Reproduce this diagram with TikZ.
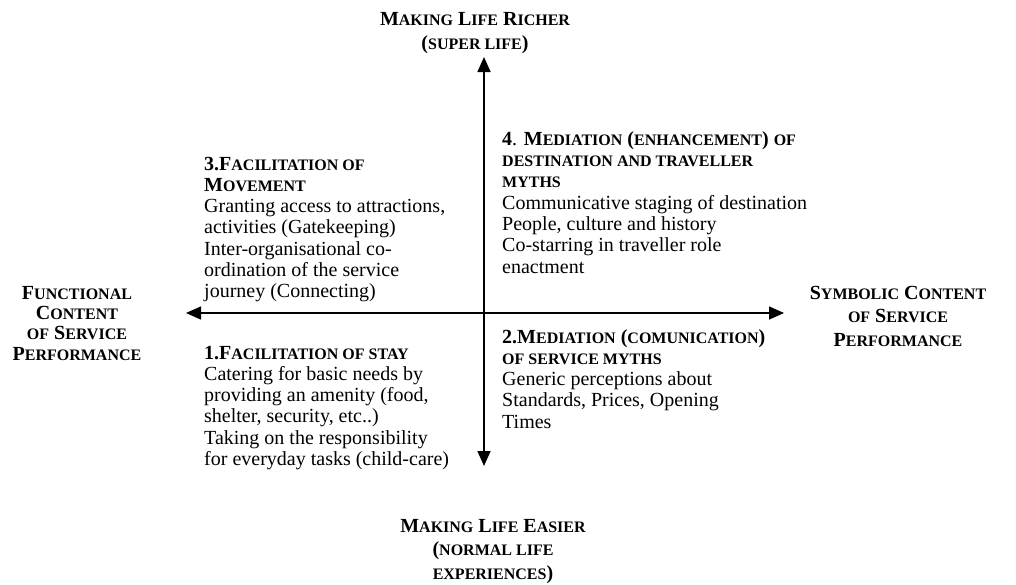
\documentclass[tikz,border=0pt]{standalone}
\usepackage{fontspec}
\setmainfont{Liberation Serif}
\usetikzlibrary{arrows.meta}
\newcommand\smcp[1]{{\fontsize{16}{21.3}\selectfont #1}}
\begin{document}
\begin{tikzpicture}[x=1pt,y=-1pt,
  body/.style={inner sep=0pt,align=left,anchor=base west,font=\fontsize{20}{21.3}\selectfont},
  axlabel/.style={inner sep=0pt,align=center,anchor=base,font=\fontsize{20}{23.5}\selectfont\bfseries},
  axis/.style={line width=1.6pt,{Triangle[width=13pt,length=15pt]}-{Triangle[width=13pt,length=15pt]}}]
\useasboundingbox (0,0) rectangle (1016,584);
\coordinate (vt) at (484,57);
\coordinate (vb) at (484,466);
\coordinate (hl) at (186,313);
\coordinate (hr) at (784,313);
\draw[axis] (vb) -- (vt);
\draw[axis] (hl) -- (hr);
% base anchor = baseline of the last line
\node[axlabel,font=\fontsize{20}{24}\selectfont\bfseries] (top) at (475,49) {M\smcp{AKING} L\smcp{IFE} R\smcp{ICHER}\\(\smcp{SUPER LIFE})};
\node[axlabel] (bot) at (493,579) {M\smcp{AKING} L\smcp{IFE} E\smcp{ASIER}\\(\smcp{NORMAL LIFE}\\\smcp{EXPERIENCES})};
\node[axlabel,font=\fontsize{20}{20.3}\selectfont\bfseries] (left) at (77,360) {F\smcp{UNCTIONAL}\\C\smcp{ONTENT}\\\smcp{OF} S\smcp{ERVICE}\\P\smcp{ERFORMANCE}};
\node[axlabel] (right) at (898,346) {S\smcp{YMBOLIC} C\smcp{ONTENT}\\\smcp{OF} S\smcp{ERVICE}\\P\smcp{ERFORMANCE}};
\node[body] (q3) at (204,297.8) {\textbf{3.F\smcp{ACILITATION OF}}\\\textbf{M\smcp{OVEMENT}}\\Granting access to attractions,\\activities (Gatekeeping)\\Inter-organisational co-\\ordination of the service\\journey (Connecting)};
\node[body] (q4) at (502,273) {\textbf{4}. \textbf{M\smcp{EDIATION} (\smcp{ENHANCEMENT}) \smcp{OF}}\\\textbf{\smcp{DESTINATION AND TRAVELLER}}\\\textbf{\smcp{MYTHS}}\\Communicative staging of destination\\People, culture and history\\Co-starring in traveller role\\enactment};
\node[body] (q1) at (204,465.5) {\textbf{1.F\smcp{ACILITATION OF STAY}}\\Catering for basic needs by\\providing an amenity (food,\\shelter, security, etc..)\\Taking on the responsibility\\for everyday tasks (child-care)};
\node[body] (q2) at (502,428.2) {\textbf{2.M\smcp{EDIATION} (\smcp{COMUNICATION})}\\\textbf{\smcp{OF SERVICE MYTHS}}\\Generic perceptions about\\Standards, Prices, Opening\\Times};
\end{tikzpicture}
\end{document}
